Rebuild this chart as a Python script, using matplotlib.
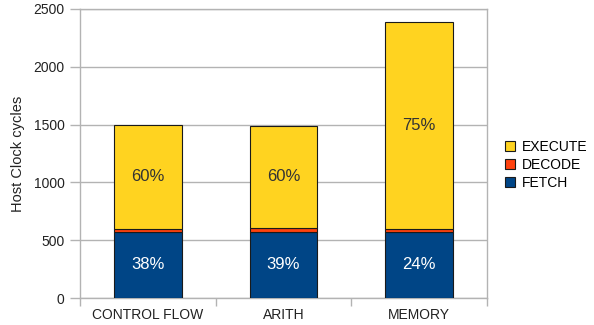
import numpy as np
import matplotlib
matplotlib.use("Agg")
import matplotlib.pyplot as plt
from matplotlib.patches import Patch

categories = ["CONTROL FLOW", "ARITH", "MEMORY"]
fetch = [572, 575, 572]
decode = [28, 28, 28]
execute = [900, 888, 1786]
fetch_pct = ["38%", "39%", "24%"]
execute_pct = ["60%", "60%", "75%"]

C_EXEC, C_DEC, C_FETCH = "#FFD320", "#FF420E", "#004586"

plt.rcParams["font.family"] = ["Liberation Sans", "DejaVu Sans"]
fig = plt.figure(figsize=(5.94, 3.25), dpi=100)
ax = fig.add_axes([80 / 594, 1 - 298 / 325, 407 / 594, 289 / 325])

x = np.arange(len(categories))
w = 0.5
fb = np.array(fetch)
db = fb + np.array(decode)
kw = dict(width=w, edgecolor="#1a1a1a", linewidth=0.8, zorder=3)
ax.bar(x, fetch, color=C_FETCH, **kw)
ax.bar(x, decode, bottom=fb, color=C_DEC, **kw)
ax.bar(x, execute, bottom=db, color=C_EXEC, **kw)

for i in range(len(categories)):
    ax.text(x[i], fetch[i] / 2, fetch_pct[i], ha="center", va="center",
            color="white", fontsize=12, zorder=4)
    ax.text(x[i], db[i] + execute[i] / 2, execute_pct[i], ha="center", va="center",
            color="#333333", fontsize=12, zorder=4)

ax.set_xlim(-0.5, len(categories) - 0.5)
ax.set_ylim(0, 2500)
ax.set_yticks(np.arange(0, 2501, 500))
ax.set_xticks(x)
ax.set_xticklabels(categories)
ax.set_xticks(np.arange(-0.5, len(categories)), minor=True)
ax.tick_params(axis="x", which="major", length=0, pad=7, labelsize=10, colors="#222222")
ax.tick_params(axis="x", which="minor", length=6, color="#b3b3b3", width=1)
ax.tick_params(axis="y", length=7, color="#b3b3b3", width=1, pad=4,
               labelsize=10, labelcolor="#222222")
ax.grid(True, axis="y", color="#b3b3b3", linewidth=1, zorder=0)
for s in ax.spines.values():
    s.set_color("#b3b3b3")
    s.set_linewidth(1)
ax.set_ylabel("Host Clock cycles", fontsize=10.5, color="#222222", labelpad=6)

handles = [Patch(facecolor=C_EXEC, edgecolor="#1a1a1a", linewidth=0.8),
           Patch(facecolor=C_DEC, edgecolor="#1a1a1a", linewidth=0.8),
           Patch(facecolor=C_FETCH, edgecolor="#1a1a1a", linewidth=0.8)]
fig.legend(handles, ["EXECUTE", "DECODE", "FETCH"], loc="center left",
           bbox_to_anchor=(505 / 594, 1 - 165 / 325), frameon=False, fontsize=10,
           handlelength=0.7, handleheight=0.7, handletextpad=0.5, labelspacing=0.3,
           borderaxespad=0, borderpad=0)

fig.savefig("out.png", dpi=100)
